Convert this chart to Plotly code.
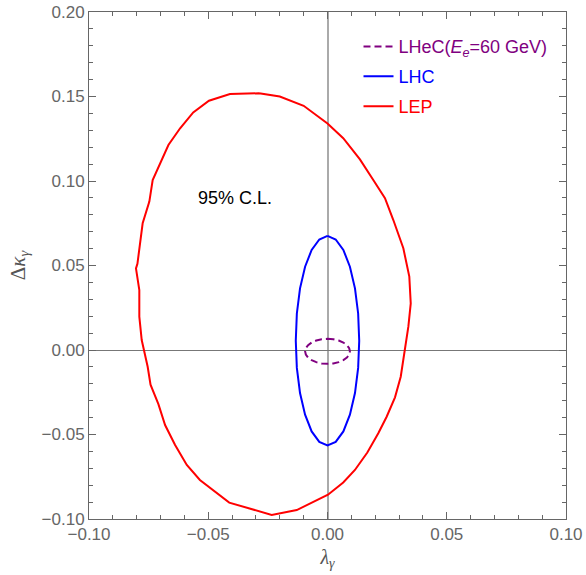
import plotly.graph_objects as go

# LEP 95% C.L. contour (lambda_gamma, delta kappa_gamma)
lep_x = [-0.0287, -0.0200, -0.0100, 0.0000, 0.0066, 0.0136, 0.0192, 0.0241, 0.0276, 0.0318,
         0.0343, 0.0349, 0.0339, 0.0325, 0.0307, 0.0283, 0.0248, 0.0213, 0.0167, 0.0115,
         0.0066, 0.0002, -0.0129, -0.0234, -0.0412, -0.0535, -0.0590, -0.0639, -0.0681, -0.0709,
         -0.0742, -0.0754, -0.0768, -0.0779, -0.0789, -0.0789, -0.0803, -0.0797, -0.0775, -0.0747,
         -0.0733, -0.0709, -0.0667, -0.0618, -0.0563, -0.0497, -0.0409, -0.0287]
lep_y = [0.1519, 0.1500, 0.1445, 0.1340, 0.1253, 0.1128, 0.1006, 0.0898, 0.0769, 0.0602,
         0.0434, 0.0276, 0.0138, 0.0000, -0.0158, -0.0280, -0.0395, -0.0493, -0.0607, -0.0710,
         -0.0784, -0.0856, -0.0947, -0.0976, -0.0903, -0.0769, -0.0680, -0.0562, -0.0444, -0.0320,
         -0.0205, -0.0099, 0.0000, 0.0059, 0.0197, 0.0355, 0.0483, 0.0510, 0.0750, 0.0878,
         0.1006, 0.1085, 0.1213, 0.1312, 0.1406, 0.1475, 0.1515, 0.1519]

# LHC contour
lhc_x = [0.0, 0.00344, 0.00665, 0.00940, 0.01152, 0.01285, 0.0133,
         0.01285, 0.01152, 0.00940, 0.00665, 0.00344, 0.0,
         -0.00344, -0.00665, -0.00940, -0.01152, -0.01285, -0.0133,
         -0.01285, -0.01152, -0.00940, -0.00665, -0.00344, 0.0]
lhc_y = [0.0675, 0.0654, 0.0592, 0.0493, 0.0365, 0.0216, 0.0055,
         -0.0106, -0.0255, -0.0383, -0.0482, -0.0544, -0.0565,
         -0.0544, -0.0482, -0.0383, -0.0255, -0.0106, 0.0055,
         0.0216, 0.0365, 0.0493, 0.0592, 0.0654, 0.0675]

# LHeC (Ee = 60 GeV) contour
lhec_x = [0.0, 0.00243, 0.0047, 0.00665, 0.00814, 0.00908, 0.0094,
          0.00908, 0.00814, 0.00665, 0.0047, 0.00243, 0.0,
          -0.00243, -0.0047, -0.00665, -0.00814, -0.00908, -0.0094,
          -0.00908, -0.00814, -0.00665, -0.0047, -0.00243, 0.0]
lhec_y = [0.0066, 0.0064, 0.0056, 0.0044, 0.0029, 0.0011, -0.0008,
          -0.0027, -0.0045, -0.0060, -0.0072, -0.0080, -0.0082,
          -0.0080, -0.0072, -0.0060, -0.0045, -0.0027, -0.0008,
          0.0011, 0.0029, 0.0044, 0.0056, 0.0064, 0.0066]

PURPLE = "#800080"
BLUE = "#0000ff"
RED = "#ff0000"

fig = go.Figure()
fig.add_trace(go.Scatter(x=lhec_x, y=lhec_y, mode="lines", legendgroup="a",
                         line=dict(color=PURPLE, width=2, dash="7px,4px"),
                         name="<span style='color:#800080'>LHeC(<i>E<sub>e</sub></i>=60 GeV)</span>"))
fig.add_trace(go.Scatter(x=lhc_x, y=lhc_y, mode="lines", legendgroup="b",
                         line=dict(color=BLUE, width=2),
                         name="<span style='color:#0000ff'>LHC</span>"))
fig.add_trace(go.Scatter(x=lep_x, y=lep_y, mode="lines", legendgroup="c",
                         line=dict(color=RED, width=2),
                         name="<span style='color:#ff0000'>LEP</span>"))

fig.add_annotation(x=-0.0388, y=0.0899, text="95% C.L.", showarrow=False,
                   font=dict(family="Liberation Sans", size=18, color="black"))

axis_common = dict(
    showline=True, linecolor="#666666", linewidth=1, mirror="ticks",
    ticks="inside", ticklen=7, tickcolor="#666666", tickwidth=1,
    showgrid=False, tickformat=".2f", dtick=0.05, tick0=0, automargin=False,
    tickfont=dict(family="Liberation Sans", size=17, color="#666666"),
    minor=dict(dtick=0.01, ticks="inside", ticklen=4, tickcolor="#666666", showgrid=False),
)

fig.update_xaxes(range=[-0.10, 0.10], zeroline=True, zerolinecolor="#aaaaaa", zerolinewidth=1.5,
                 title=dict(text="<i>λ</i><sub><i>γ</i></sub>", standoff=6,
                            font=dict(family="Liberation Serif", size=20, color="#555555")),
                 **axis_common)
fig.update_yaxes(range=[-0.10, 0.20], zeroline=True, zerolinecolor="#777777", zerolinewidth=1,
                 title=dict(text="Δ<i>κ</i><sub><i>γ</i></sub>", standoff=10,
                            font=dict(family="Liberation Serif", size=21, color="#555555")),
                 **axis_common)

fig.update_layout(
    width=586, height=575,
    margin=dict(l=89, r=20, t=12, b=56),
    plot_bgcolor="white", paper_bgcolor="white",
    legend=dict(x=0.565, y=0.968, xanchor="left", yanchor="top", bgcolor="rgba(0,0,0,0)",
                font=dict(family="Liberation Sans", size=18), tracegroupgap=3.5),
)

fig.write_html("out.html")
